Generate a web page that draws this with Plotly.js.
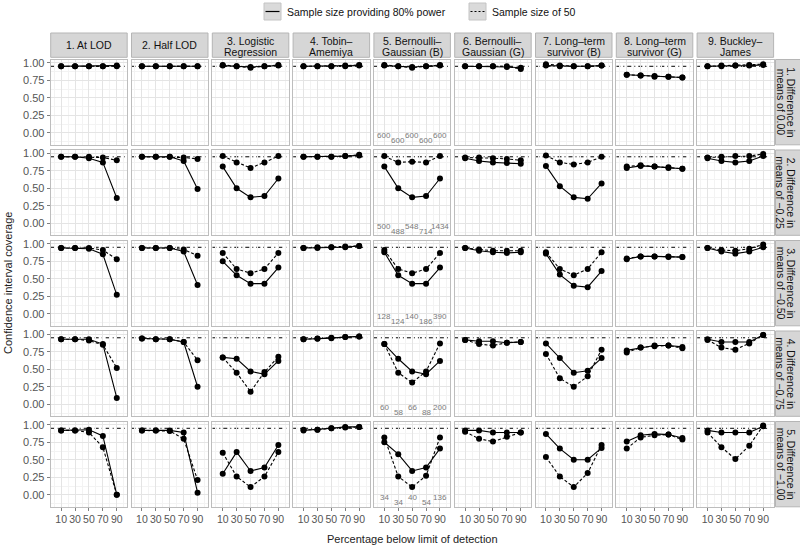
<!DOCTYPE html>
<html><head><meta charset="utf-8">
<script src="https://cdn.plot.ly/plotly-3.0.1.min.js"></script>
<style>html,body{margin:0;padding:0;background:#fff}</style>
</head><body><div id="chart" style="width:800px;height:548px"></div>
<script>
// ---------------- data ----------------
const pct = [10, 30, 50, 70, 90];
const methods = [
  ["1. At LOD"], ["2. Half LOD"], ["3. Logistic", "Regression"], ["4. Tobin–", "Amemiya"],
  ["5. Bernoulli–", "Gaussian (B)"], ["6. Bernoulli–", "Gaussian (G)"], ["7. Long–term", "survivor (B)"],
  ["8. Long–term", "survivor (G)"], ["9. Buckley–", "James"]
];
const differences = [
  ["1. Difference in", "means of 0.00"], ["2. Difference in", "means of −0.25"],
  ["3. Difference in", "means of −0.50"], ["4. Difference in", "means of −0.75"],
  ["5. Difference in", "means of −1.00"]
];
const NOMINAL = 0.95;
const seriesNames = ["Sample size providing 80% power", "Sample size of 50"];

// coverage, one array per method (columns 1..9), for each difference in means
const power80_d000 = [
  [0.95,0.95,0.95,0.95,0.96],[0.95,0.95,0.95,0.95,0.95],[0.96,0.95,0.94,0.95,0.96],
  [0.95,0.95,0.95,0.95,0.96],[0.96,0.95,0.94,0.95,0.96],[0.95,0.95,0.95,0.94,0.93],
  [0.96,0.95,0.95,0.95,0.96],[0.83,0.82,0.81,0.80,0.79],[0.95,0.95,0.96,0.96,0.97]];
const n50_d000 = [
  [0.95,0.95,0.95,0.95,0.95],[0.95,0.95,0.95,0.95,0.95],[0.97,0.95,0.93,0.95,0.97],
  [0.95,0.95,0.95,0.96,0.97],[0.97,0.95,0.93,0.95,0.97],[0.95,0.95,0.95,0.95,0.91],
  [0.98,0.96,0.95,0.95,0.96],[0.83,0.82,0.80,0.80,0.79],[0.95,0.96,0.96,0.97,0.98]];

const power80_d025 = [
  [0.95,0.95,0.93,0.87,0.36],[0.95,0.95,0.95,0.89,0.49],[0.81,0.50,0.37,0.39,0.64],
  [0.95,0.95,0.95,0.96,0.97],[0.81,0.50,0.37,0.39,0.64],[0.93,0.89,0.87,0.86,0.85],
  [0.82,0.53,0.37,0.35,0.57],[0.79,0.82,0.81,0.79,0.78],[0.93,0.89,0.87,0.89,0.96]];
const n50_d025 = [
  [0.95,0.95,0.95,0.94,0.90],[0.95,0.95,0.95,0.94,0.92],[0.96,0.87,0.79,0.87,0.96],
  [0.95,0.95,0.95,0.96,0.98],[0.96,0.87,0.88,0.87,0.96],[0.94,0.94,0.93,0.92,0.90],
  [0.97,0.87,0.84,0.87,0.95],[0.81,0.83,0.81,0.80,0.78],[0.94,0.95,0.96,0.96,0.99]];

const power80_d050 = [
  [0.94,0.94,0.93,0.85,0.27],[0.94,0.94,0.94,0.89,0.41],[0.75,0.55,0.43,0.43,0.66],
  [0.94,0.94,0.95,0.95,0.97],[0.88,0.55,0.43,0.43,0.66],[0.94,0.90,0.88,0.87,0.88],
  [0.86,0.56,0.40,0.38,0.61],[0.78,0.82,0.82,0.81,0.81],[0.94,0.89,0.86,0.89,0.95]];
const n50_d050 = [
  [0.94,0.94,0.94,0.91,0.78],[0.94,0.94,0.94,0.92,0.83],[0.87,0.64,0.58,0.64,0.87],
  [0.94,0.95,0.95,0.96,0.97],[0.91,0.64,0.58,0.64,0.87],[0.94,0.92,0.90,0.90,0.90],
  [0.88,0.64,0.55,0.64,0.88],[0.79,0.82,0.82,0.82,0.81],[0.94,0.91,0.90,0.93,0.99]];

const power80_d075 = [
  [0.93,0.93,0.93,0.86,0.09],[0.94,0.93,0.93,0.89,0.25],[0.67,0.65,0.47,0.43,0.62],
  [0.93,0.935,0.945,0.96,0.97],[0.86,0.65,0.47,0.43,0.62],[0.92,0.90,0.90,0.88,0.89],
  [0.87,0.66,0.45,0.48,0.66],[0.77,0.81,0.84,0.84,0.82],[0.93,0.89,0.89,0.89,0.99]];
const n50_d075 = [
  [0.93,0.93,0.91,0.85,0.52],[0.94,0.93,0.93,0.89,0.63],[0.67,0.45,0.18,0.46,0.68],
  [0.93,0.94,0.95,0.96,0.97],[0.86,0.45,0.31,0.47,0.87],[0.92,0.86,0.84,0.88,0.89],
  [0.72,0.37,0.25,0.40,0.78],[0.74,0.81,0.83,0.84,0.80],[0.92,0.81,0.78,0.87,0.99]];

const power80_d100 = [
  [0.92,0.92,0.93,0.84,0.00],[0.92,0.92,0.92,0.89,0.03],[0.30,0.61,0.34,0.39,0.71],
  [0.92,0.93,0.95,0.97,0.97],[0.75,0.58,0.34,0.39,0.66],[0.92,0.92,0.89,0.89,0.89],
  [0.87,0.66,0.50,0.50,0.67],[0.76,0.85,0.87,0.86,0.81],[0.92,0.89,0.89,0.89,0.98]];
const n50_d100 = [
  [0.92,0.92,0.89,0.68,0.00],[0.92,0.92,0.91,0.80,0.21],[0.60,0.26,0.11,0.26,0.61],
  [0.93,0.93,0.95,0.96,0.97],[0.82,0.26,0.11,0.27,0.82],[0.90,0.80,0.76,0.83,0.89],
  [0.54,0.26,0.11,0.31,0.71],[0.66,0.82,0.85,0.86,0.79],[0.89,0.68,0.51,0.70,0.99]];

// sample sizes providing 80% power (shown in panel 5)
const n80_d000 = [600, 600, 600, 600, 600];
const n80_d025 = [500, 488, 548, 714, 1434];
const n80_d050 = [128, 124, 140, 186, 390];
const n80_d075 = [60, 58, 66, 88, 200];
const n80_d100 = [34, 34, 40, 54, 136];

const power80 = [power80_d000, power80_d025, power80_d050, power80_d075, power80_d100];
const n50 = [n50_d000, n50_d025, n50_d050, n50_d075, n50_d100];
const n80 = [n80_d000, n80_d025, n80_d050, n80_d075, n80_d100];
const labelColumn = 4; // "5. Bernoulli-Gaussian (B)"

// ---------------- layout ----------------
const W = 800, H = 548;
const L0 = 50.7, CW = 76.5, CP = 80.8;     // panel columns (px)
const T0 = 59.5, RH = 85.3, RP = 90.5;     // panel rows (px)
const px = x => x / W, py = y => 1 - y / H;
const FONT = '"Liberation Sans", Arial, sans-serif';
const GRID = '#e4e4e4', MINOR = '#f3f3f3', BORDER = '#bdbdbd';
const STRIP_FILL = '#d6d6d6', STRIP_LINE = '#b5b5b5';

const traces = [], shapes = [], annotations = [];
const layout = {
  width: W, height: H, margin: {l: 0, r: 0, t: 0, b: 0},
  paper_bgcolor: '#fff', plot_bgcolor: '#fff', showlegend: false,
  font: {family: FONT, size: 11, color: '#000'}
};

for (let r = 0; r < 5; r++) {
  for (let c = 0; c < 9; c++) {
    const i = r * 9 + c + 1, s = i === 1 ? '' : String(i);
    const left = L0 + c * CP, top = T0 + r * RP;
    layout['xaxis' + s] = {
      domain: [px(left), px(left + CW)], anchor: 'y' + s, range: [-5, 105],
      tickvals: pct, tickangle: 0, showticklabels: r === 4, ticks: r === 4 ? 'outside' : '',
      ticklen: 3, tickcolor: '#7f7f7f', tickfont: {size: 10.5, color: '#555', family: FONT},
      showgrid: true, gridcolor: GRID, gridwidth: 1, zeroline: false,
      minor: {tickvals: [0, 20, 40, 60, 80, 100], showgrid: true, gridcolor: MINOR, ticks: ''},
      showline: true, mirror: true, linecolor: BORDER, linewidth: 1, fixedrange: true
    };
    layout['yaxis' + s] = {
      domain: [py(top + RH), py(top)], anchor: 'x' + s, range: [-0.172, 1.047],
      tickvals: [0, 0.25, 0.5, 0.75, 1], tickformat: '.2f', showticklabels: c === 0,
      ticks: c === 0 ? 'outside' : '', ticklen: 3, tickcolor: '#7f7f7f',
      tickfont: {size: 11, color: '#555', family: FONT},
      showgrid: true, gridcolor: GRID, gridwidth: 1, zeroline: false,
      minor: {tickvals: [-0.125, 0.125, 0.375, 0.625, 0.875], showgrid: true, gridcolor: MINOR, ticks: ''},
      showline: true, mirror: true, linecolor: BORDER, linewidth: 1, fixedrange: true
    };
    // nominal coverage reference
    shapes.push({type: 'line', layer: 'below', xref: 'x' + s, x0: -5, x1: 105,
      yref: 'y' + s, y0: NOMINAL, y1: NOMINAL, line: {color: '#000', width: 1, dash: '4px,3px,1px,3px'}});
    // series
    traces.push({x: pct, y: n50[r][c], xaxis: 'x' + s, yaxis: 'y' + s, mode: 'lines+markers',
      name: seriesNames[1], line: {color: '#000', width: 1.1, dash: '3px,2px'},
      marker: {color: '#000', size: 6}, hoverinfo: 'skip'});
    traces.push({x: pct, y: power80[r][c], xaxis: 'x' + s, yaxis: 'y' + s, mode: 'lines+markers',
      name: seriesNames[0], line: {color: '#000', width: 1.1},
      marker: {color: '#000', size: 6}, hoverinfo: 'skip'});
    // sample size labels
    if (c === labelColumn) {
      n80[r].forEach((n, j) => annotations.push({
        xref: 'x' + s, yref: 'y' + s, x: pct[j], y: j % 2 === 0 ? -0.04 : -0.115,
        text: String(n), showarrow: false, xanchor: 'center', yanchor: 'middle',
        font: {size: 8, color: '#7a7a7a', family: FONT}
      }));
    }
  }
}

// top strips
methods.forEach((lines, c) => {
  const left = L0 + c * CP;
  shapes.push({type: 'rect', xref: 'paper', yref: 'paper', x0: px(left), x1: px(left + CW),
    y0: py(57.3), y1: py(33), fillcolor: STRIP_FILL, line: {color: STRIP_LINE, width: 1}});
  const ys = lines.length === 1 ? [45.2] : [40.8, 51.6];
  lines.forEach((t, k) => annotations.push({xref: 'paper', yref: 'paper', x: px(left + CW / 2), y: py(ys[k]),
    text: t, showarrow: false, xanchor: 'center', yanchor: 'middle', font: {size: 10.5, color: '#111'}}));
});
// right strips
differences.forEach((lines, r) => {
  const top = T0 + r * RP;
  shapes.push({type: 'rect', xref: 'paper', yref: 'paper', x0: px(775.5), x1: px(801),
    y0: py(top + RH), y1: py(top), fillcolor: STRIP_FILL, line: {color: STRIP_LINE, width: 1}});
  const xs = [791, 780.5];
  lines.forEach((t, k) => annotations.push({xref: 'paper', yref: 'paper', x: px(xs[k]), y: py(top + RH / 2),
    text: t, textangle: 90, showarrow: false, xanchor: 'center', yanchor: 'middle', font: {size: 10.5, color: '#111'}}));
});

// axis titles
annotations.push({xref: 'paper', yref: 'paper', x: px(412), y: py(539), text: 'Percentage below limit of detection',
  showarrow: false, xanchor: 'center', yanchor: 'middle', font: {size: 11, color: '#222'}});
annotations.push({xref: 'paper', yref: 'paper', x: px(8), y: py(283), text: 'Confidence interval coverage',
  textangle: -90, showarrow: false, xanchor: 'center', yanchor: 'middle', font: {size: 11, color: '#222'}});

// legend (top)
const legendKeys = [{x: 264, dash: 'solid'}, {x: 469, dash: '2px,2px'}];
legendKeys.forEach((k, idx) => {
  shapes.push({type: 'rect', xref: 'paper', yref: 'paper', x0: px(k.x), x1: px(k.x + 17),
    y0: py(20), y1: py(3), fillcolor: '#dadada', line: {color: '#c4c4c4', width: 1}});
  shapes.push({type: 'line', xref: 'paper', yref: 'paper', x0: px(k.x + 1.5), x1: px(k.x + 15.5),
    y0: py(11.5), y1: py(11.5), line: {color: '#000', width: 1.2, dash: k.dash}});
  annotations.push({xref: 'paper', yref: 'paper', x: px(k.x + 21), y: py(11.5), text: seriesNames[idx],
    showarrow: false, xanchor: 'left', yanchor: 'middle', font: {size: 10.5, color: '#111'}});
});

layout.shapes = shapes;
layout.annotations = annotations;
Plotly.newPlot('chart', traces, layout, {staticPlot: true, displayModeBar: false});
</script>
</body></html>
